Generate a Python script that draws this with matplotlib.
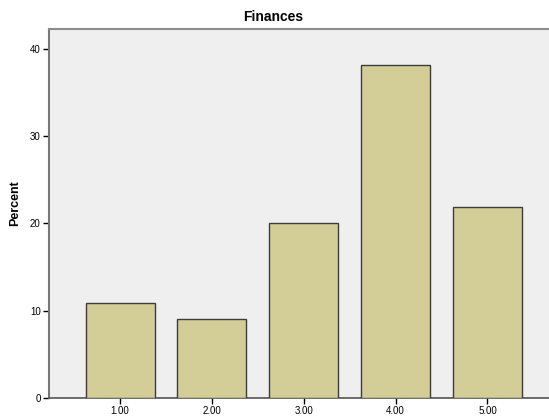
import matplotlib
matplotlib.use('Agg')
import matplotlib.pyplot as plt

# dados do grafico
categorias = [1, 2, 3, 4, 5]
rotulos = ['1.00', '2.00', '3.00', '4.00', '5.00']
percentuais = [10.9, 9.09, 20.0, 38.18, 21.82]
ticks_y = [0, 10, 20, 30, 40]

plt.rcParams['font.family'] = ['Liberation Sans', 'DejaVu Sans']

fig = plt.figure(figsize=(5.49, 4.19), dpi=100)
# area do grafico em pixels: x 49..548, y 29.5..398
ax = fig.add_axes([49 / 549, 1 - 398 / 419, 500 / 549, (398 - 29.5) / 419])
ax.set_facecolor('#EFEFEF')

ax.bar(categorias, percentuais, width=0.75, color='#D3CE97',
       edgecolor='#3C3C3C', linewidth=1.0, zorder=3)

ax.set_xlim(0.226, 5.67)
ax.set_ylim(0, 42.2)
ax.set_xticks(categorias)
ax.set_xticklabels(rotulos)
ax.set_yticks(ticks_y)

ax.tick_params(axis='both', labelsize=7, length=4, width=1, color='#000000', pad=2)

ax.spines['right'].set_visible(False)
ax.spines['top'].set_color('#8C8C8C')
ax.spines['top'].set_linewidth(1.5)
ax.spines['left'].set_color('#777777')
ax.spines['left'].set_linewidth(1.5)
ax.spines['bottom'].set_color('#555555')
ax.spines['bottom'].set_linewidth(1.2)

ax.set_ylabel('Percent', fontsize=9, fontweight='bold')
ax.yaxis.set_label_coords(-0.056, 0.53)
fig.text(273 / 549, 1 - 17 / 419, 'Finances', fontsize=10, fontweight='bold',
         ha='center', va='center')

fig.savefig('out.png', dpi=100)
